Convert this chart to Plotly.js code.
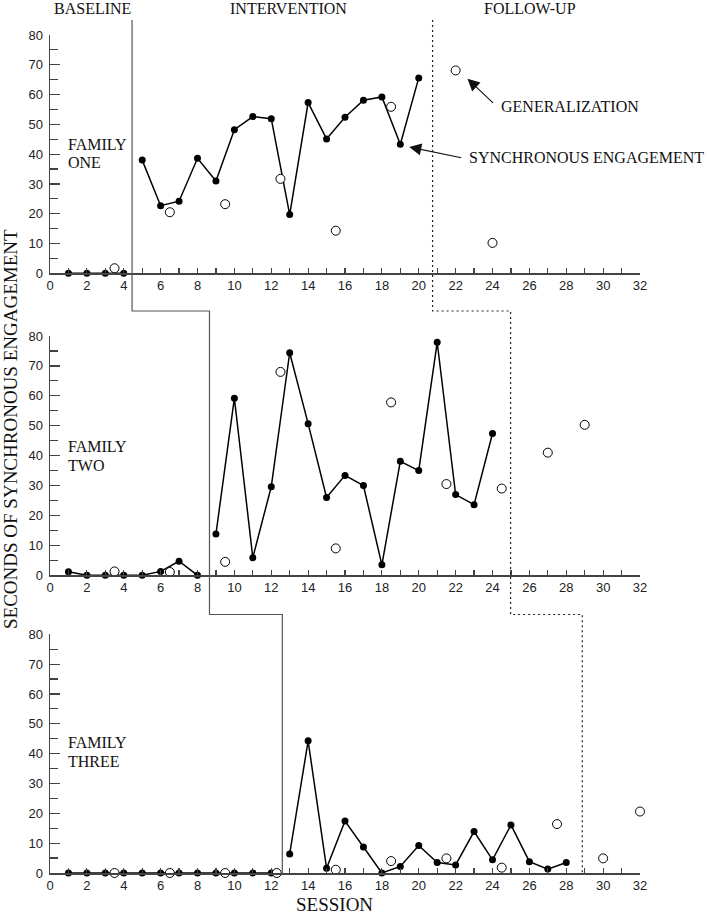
<!DOCTYPE html>
<html>
<head>
<meta charset="utf-8">
<script src="https://cdn.plot.ly/plotly-3.0.1.min.js"></script>
<style>html,body{margin:0;padding:0;background:#fff;}#chart{width:708px;height:914px;}</style>
</head>
<body>
<div id="chart"></div>
<script>
// ---------- DATA ----------
const fam1BaseX = [1, 2, 3, 4];
const fam1BaseY = [0, 0, 0, 0];
const fam1IntX = [5, 6, 7, 8, 9, 10, 11, 12, 13, 14, 15, 16, 17, 18, 19, 20];
const fam1IntY = [38.0, 22.7, 24.2, 38.6, 31.0, 48.2, 52.6, 51.9, 19.7, 57.3, 45.1, 52.4, 58.1, 59.2, 43.3, 65.6];
const fam1GenX = [3.5, 6.5, 9.5, 12.5, 15.5, 18.5, 22, 24];
const fam1GenY = [1.7, 20.5, 23.2, 31.7, 14.3, 55.9, 68.1, 10.2];

const fam2BaseX = [1, 2, 3, 4, 5, 6, 7, 8];
const fam2BaseY = [1.2, 0, 0, 0, 0, 1.3, 4.7, 0];
const fam2IntX = [9, 10, 11, 12, 13, 14, 15, 16, 17, 18, 19, 20, 21, 22, 23, 24];
const fam2IntY = [13.8, 59.2, 5.9, 29.6, 74.4, 50.7, 26.0, 33.4, 30.0, 3.5, 38.1, 35.0, 77.9, 27.0, 23.6, 47.4];
const fam2GenX = [3.5, 6.5, 9.5, 12.5, 15.5, 18.5, 21.5, 24.5, 27, 29];
const fam2GenY = [1.3, 1.1, 4.5, 68.0, 9.0, 57.8, 30.5, 29.0, 41.0, 50.3];

const fam3BaseX = [1, 2, 3, 4, 5, 6, 7, 8, 9, 10, 11, 12];
const fam3BaseY = [0, 0, 0, 0, 0, 0, 0, 0, 0, 0, 0, 0];
const fam3IntX = [13, 14, 15, 16, 17, 18, 19, 20, 21, 22, 23, 24, 25, 26, 27, 28];
const fam3IntY = [6.4, 44.3, 1.6, 17.4, 8.7, 0, 2.2, 9.2, 3.5, 2.7, 13.9, 4.4, 16.1, 3.8, 1.3, 3.5];
const fam3GenX = [3.5, 6.5, 9.5, 12.3, 15.5, 18.5, 21.5, 24.5, 27.5, 30, 32];
const fam3GenY = [0, 0, 0, 0, 1.1, 4.0, 4.9, 1.8, 16.4, 4.9, 20.6];

// phase-change session positions (panel 1, 2, 3)
const phaseIntervention = [4.45, 8.65, 12.6];
const phaseFollowUp = [20.75, 24.98, 28.87];

const phaseLabels = ["BASELINE", "INTERVENTION", "FOLLOW-UP"];
const familyLabels = [["FAMILY", "ONE"], ["FAMILY", "TWO"], ["FAMILY", "THREE"]];
const yTickVals = [0, 10, 20, 30, 40, 50, 60, 70, 80];

// ---------- FIGURE ----------
const W = 708, H = 914, ML = 50, MR = 68, MT = 35, MB = 41;
const PW = W - ML - MR, PH = H - MT - MB;
const px2x = p => (p - ML) / PW;          // pixel -> paper x
const py2y = p => (H - MB - p) / PH;      // pixel -> paper y

const serif = "Liberation Serif, Times New Roman, serif";
const sans = "Liberation Sans, Arial, sans-serif";
const ink = "#000";
const axisCol = "#444";

function filled(x, y, ax) {
  return {x: x, y: y, xaxis: ax[0], yaxis: ax[1], type: "scatter", mode: "lines+markers",
    line: {color: ink, width: 1.5}, marker: {color: ink, size: 7, symbol: "circle"},
    cliponaxis: false, showlegend: false, hoverinfo: "skip"};
}
function openPts(x, y, ax) {
  return {x: x, y: y, xaxis: ax[0], yaxis: ax[1], type: "scatter", mode: "markers",
    marker: {color: "#fff", size: 9, symbol: "circle", line: {color: ink, width: 1}},
    cliponaxis: false, showlegend: false, hoverinfo: "skip"};
}

const A1 = ["x", "y"], A2 = ["x2", "y2"], A3 = ["x3", "y3"];
const data = [
  filled(fam1BaseX, fam1BaseY, A1), filled(fam1IntX, fam1IntY, A1), openPts(fam1GenX, fam1GenY, A1),
  filled(fam2BaseX, fam2BaseY, A2), filled(fam2IntX, fam2IntY, A2), openPts(fam2GenX, fam2GenY, A2),
  filled(fam3BaseX, fam3BaseY, A3), filled(fam3IntX, fam3IntY, A3), openPts(fam3GenX, fam3GenY, A3)
];

function xAxis(anchor) {
  return {anchor: anchor, domain: [0, 1], range: [0, 32], showgrid: false, zeroline: false,
    showline: true, linecolor: axisCol, linewidth: 1.5,
    tickmode: "linear", tick0: 0, dtick: 2, ticks: "inside", ticklen: 5, tickwidth: 1.2, tickcolor: axisCol,
    minor: {tickmode: "linear", tick0: 0, dtick: 1, ticks: "inside", ticklen: 5, tickwidth: 1.2, tickcolor: axisCol},
    tickfont: {family: sans, size: 13, color: "#222"}, fixedrange: true};
}
function yAxis(anchor, dom) {
  return {anchor: anchor, domain: dom, range: [0, 80], showgrid: false, zeroline: false,
    showline: true, linecolor: axisCol, linewidth: 1.5,
    tickmode: "array", tickvals: yTickVals, ticks: "inside", ticklen: 10, tickwidth: 1.2, tickcolor: axisCol,
    minor: {tickmode: "linear", tick0: 0, dtick: 5, ticks: "inside", ticklen: 8, tickwidth: 1.2, tickcolor: axisCol},
    tickfont: {family: sans, size: 13, color: "#222"}, ticklabelstandoff: 3, fixedrange: true};
}

// phase change step lines
const yTop = py2y(20), yStep1 = py2y(311), yStep2 = py2y(614.5), yBot = 0;
function stepPath(xs) {
  return "M" + xs[0] + "," + yTop + " L" + xs[0] + "," + yStep1 + " L" + xs[1] + "," + yStep1 +
         " L" + xs[1] + "," + yStep2 + " L" + xs[2] + "," + yStep2 + " L" + xs[2] + "," + yBot;
}
const shapes = [
  {type: "path", xref: "x", yref: "paper", path: stepPath(phaseIntervention), line: {color: "#555", width: 1.2}},
  {type: "path", xref: "x", yref: "paper", path: stepPath(phaseFollowUp), line: {color: "#222", width: 1.2, dash: "2px,3px"}}
];

const annotations = [];
const headerX = [92, 288, 530];
phaseLabels.forEach((t, i) => annotations.push({text: t, xref: "paper", yref: "paper",
  x: px2x(headerX[i]), y: py2y(8.5), xanchor: "center", yanchor: "middle", showarrow: false,
  font: {family: serif, size: 16, color: "#111"}}));

const famY = [[144, 162], [446, 465], [742.5, 761]];
familyLabels.forEach((lines, i) => lines.forEach((t, j) => annotations.push({text: t, xref: "paper", yref: "paper",
  x: px2x(66), y: py2y(famY[i][j]), xanchor: "left", yanchor: "middle", showarrow: false,
  font: {family: serif, size: 16, color: "#111"}})));

// axis titles
annotations.push({text: "SECONDS OF SYNCHRONOUS ENGAGEMENT", xref: "paper", yref: "paper",
  x: px2x(10), y: py2y(429), textangle: -90, xanchor: "center", yanchor: "middle", showarrow: false,
  font: {family: serif, size: 19, color: "#111"}});
annotations.push({text: "SESSION", xref: "paper", yref: "paper",
  x: px2x(334), y: py2y(905), xanchor: "center", yanchor: "middle", showarrow: false,
  font: {family: serif, size: 19, color: "#111"}});

// callouts
annotations.push({text: "GENERALIZATION", xref: "paper", yref: "paper", x: px2x(499), y: py2y(106),
  xanchor: "left", yanchor: "middle", showarrow: false, font: {family: serif, size: 16, color: "#111"}});
annotations.push({text: "SYNCHRONOUS ENGAGEMENT", xref: "paper", yref: "paper", x: px2x(467), y: py2y(157),
  xanchor: "left", yanchor: "middle", showarrow: false, font: {family: serif, size: 16, color: "#111"}});
annotations.push({text: "", xref: "paper", yref: "paper", x: px2x(467.5), y: py2y(78.7),
  ax: 27, ay: 25.5, showarrow: true, arrowhead: 2, arrowsize: 2.2, arrowwidth: 1.1, arrowcolor: "#111", standoff: 0});
annotations.push({text: "", xref: "paper", yref: "paper", x: px2x(409.2), y: py2y(147),
  ax: 53.5, ay: 11, showarrow: true, arrowhead: 2, arrowsize: 2.2, arrowwidth: 1.1, arrowcolor: "#111", standoff: 0});

const layout = {
  width: W, height: H, margin: {l: ML, r: MR, t: MT, b: MB, pad: 0},
  paper_bgcolor: "#fff", plot_bgcolor: "rgba(0,0,0,0)", showlegend: false,
  xaxis: xAxis("y"), xaxis2: xAxis("y2"), xaxis3: xAxis("y3"),
  yaxis: yAxis("x", [py2y(273.3), py2y(35)]),
  yaxis2: yAxis("x2", [py2y(575.3), py2y(336)]),
  yaxis3: yAxis("x3", [0, py2y(634.3)]),
  shapes: shapes, annotations: annotations
};

Plotly.newPlot("chart", data, layout, {displayModeBar: false, staticPlot: true});
</script>
</body>
</html>
